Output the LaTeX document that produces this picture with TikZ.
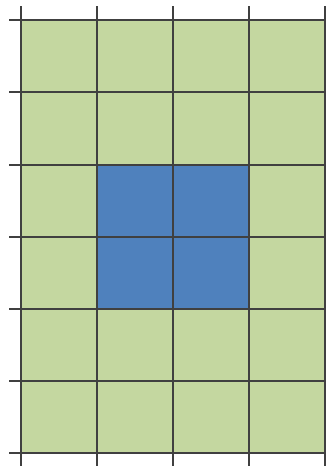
\documentclass[tikz,border=0pt]{standalone}
\usepackage{tikz}
\definecolor{cellgreen}{RGB}{196,215,160}
\definecolor{cellblue}{RGB}{79,129,189}
\begin{document}
\begin{tikzpicture}[
  x=1pt, y=-1pt,
  cell/.style={fill=cellgreen},
  hotcell/.style={fill=cellblue},
  gridline/.style={draw=black!75, line width=1.1pt}
]
  \useasboundingbox (0,0) rectangle (332,466);
  % cells
  \path[cell] (21,20) rectangle (325,453);
  \path[hotcell] (97,165) rectangle (249,309);
  % grid lines
  \foreach \x in {21,97,173,249,325}
    \draw[gridline] (\x,6) -- (\x,466);
  \foreach \y in {20,92,165,237,309,381,453}
    \draw[gridline] (9,\y) -- (326,\y);
\end{tikzpicture}
\end{document}
